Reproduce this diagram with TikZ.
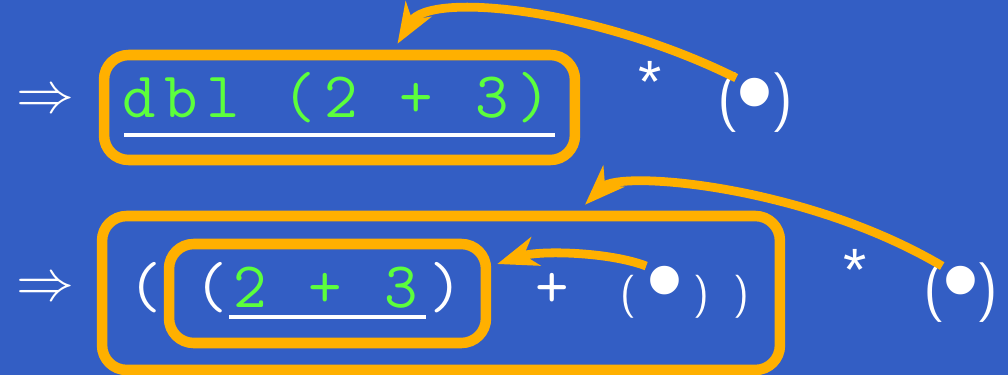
\documentclass[tikz,border=0pt]{standalone}
\usepackage{fontspec}
\setmainfont{Liberation Sans}
\setmonofont{Latin Modern Mono}[LetterSpace=13.3]
\usetikzlibrary{arrows.meta}
\definecolor{slide}{HTML}{335EC4}
\definecolor{hilite}{HTML}{FFB000}
\definecolor{code}{HTML}{5CFF3C}

\begin{document}
\begin{tikzpicture}[x=0.02cm,y=-0.02cm,
  redex/.style={draw=hilite,line width=6pt,rounded corners=14pt,inner sep=0pt},
  back/.style={draw=hilite,line width=5pt,-{Stealth[length=23pt,width=17pt,inset=7pt]}},
  tt/.style={font=\fontsize{37}{40}\selectfont\ttfamily,inner sep=0pt,anchor=base},
  sf/.style={font=\fontsize{34}{40}\selectfont\sffamily,inner sep=0pt,anchor=base,text=white},
  sfsmall/.style={font=\fontsize{24.5}{30}\selectfont\sffamily,inner sep=0pt,anchor=base,text=white},
  star/.style={font=\fontsize{34}{40}\selectfont,inner sep=0pt,text=white},
  hole/.style={font=\fontsize{60}{60}\selectfont,inner sep=0pt,text=white},
  reduce/.style={text=white,inner sep=0pt,scale=3.3}]
  \useasboundingbox (0,0) rectangle (1008,375);
  \fill[slide] (0,0) rectangle (1008,375);
  % boxes round the redexes
  \node[redex,minimum width=9.42cm,minimum height=2.1cm] (redex1) at (339.5,107.5) {};
  \node[redex,minimum width=13.56cm,minimum height=3.08cm] (redex2) at (441,293) {};
  \node[redex,minimum width=6.34cm,minimum height=1.98cm] (redex3) at (327.5,293.5) {};
  % first line
  \node[reduce] (step1) at (45,102) {$\Rightarrow$};
  \node[tt,text=code,anchor=base west] (code1) at (122,118) {dbl (2 + 3)};
  \draw[white,line width=2pt] (124,135) -- (555,135);
  \node[star] (times1) at (650,82) {*};
  \node[sf] (open1) at (728.5,118) {(};
  \node[hole] (hole1) at (755,103) {•};
  \node[sf] (close1) at (782.5,118) {)};
  % second line
  \node[reduce] (step2) at (45,290) {$\Rightarrow$};
  \node[tt,text=white] (open2) at (145,307) {(};
  \node[tt,text=white] (open3) at (211,307) {(};
  \node[tt,text=code,anchor=base west] (code2) at (233,307) {2 + 3};
  \draw[white,line width=2pt] (229,317) -- (426,317);
  \node[tt,text=white] (close3) at (446,307) {)};
  \node[tt,text=white] (plus) at (552,307) {+};
  \node[sfsmall] (open4) at (628,307) {(};
  \node[hole] (hole2) at (665,291) {•};
  \node[sfsmall] (close4) at (701,307) {)};
  \node[sfsmall] (close2) at (741,307) {)};
  \node[star] (times2) at (855,270) {*};
  \node[sf] (open5) at (934.5,307) {(};
  \node[hole] (hole3) at (961,291) {•};
  \node[sf] (close5) at (987.5,307) {)};
  % arrows back to the holes' sources
  \draw[back] (hole1.north west) .. controls (600,10) and (430,-10) .. ([shift={(58,-6)}]redex1.north);
  \draw[back] (hole2.north west) .. controls (610,252) and (540,250) .. ([shift={(6,-29.5)}]redex3.east);
  \draw[back] (hole3.north west) .. controls (805,185) and (620,170) .. ([shift={(144,-6)}]redex2.north);
\end{tikzpicture}
\end{document}
